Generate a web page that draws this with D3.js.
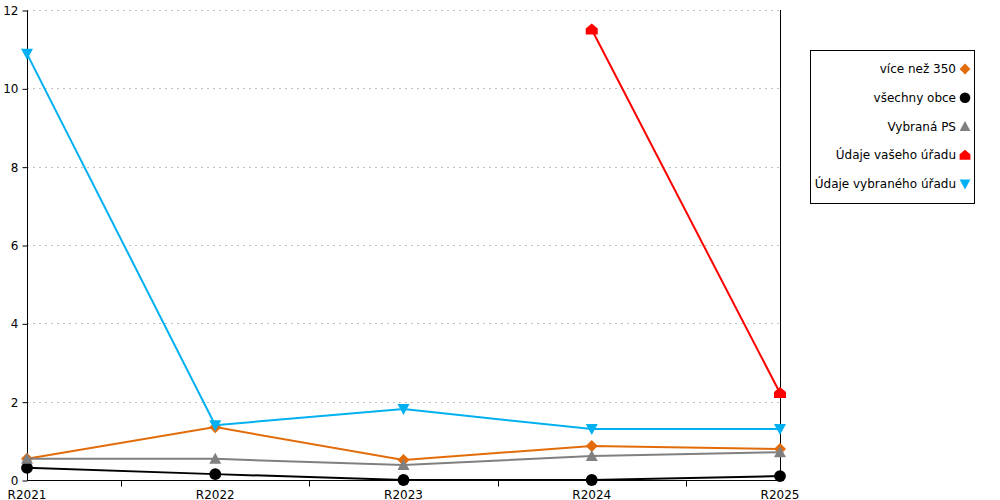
<!DOCTYPE html>
<html><head><meta charset="utf-8">
<script src="https://cdn.jsdelivr.net/npm/d3@7"></script>
<style>
body{margin:0;background:#fff;}
text{font-family:"DejaVu Sans",sans-serif;font-size:12px;fill:#000;}
</style></head>
<body><svg id="c" width="1000" height="500"></svg>
<script>
const categories = ["R2021","R2022","R2023","R2024","R2025"];
const yTicks = [0,2,4,6,8,10,12];
const seriesNames = ["více než 350","všechny obce","Vybraná PS","Údaje vašeho úřadu","Údaje vybraného úřadu"];
const seriesColors = ["#E36C0A","#000000","#808080","#FF0000","#00B0F0"];
const seriesMarkers = ["diamond","circle","triangleUp","house","triangleDown"];
const valsVice350 = [0.54,1.35,0.51,0.87,0.79];
const valsVsechny = [0.31,0.15,0,0,0.1];
const valsPS = [0.54,0.54,0.38,0.61,0.71];
const valsVasUrad = [null,null,null,11.5,2.22];
const valsVybranyUrad = [10.88,1.4,1.81,1.3,1.3];
const seriesValues = [valsVice350,valsVsechny,valsPS,valsVasUrad,valsVybranyUrad];

const svg = d3.select("#c");
const L=27,R=780,T=10,B=480;
const x = d3.scalePoint().domain(categories).range([L,R]);
const y = d3.scaleLinear().domain([0,12]).range([B,T]);

// grid
svg.append("g").selectAll("line").data(yTicks.filter(d=>d>0)).join("line")
  .attr("x1",L).attr("x2",R).attr("y1",d=>Math.round(y(d))+0.5).attr("y2",d=>Math.round(y(d))+0.5)
  .attr("stroke","#c0c0c0").attr("stroke-dasharray","2,4");

// right border
svg.append("line").attr("x1",R+0.5).attr("x2",R+0.5).attr("y1",T).attr("y2",B).attr("stroke","#000");

// y axis
const ya = svg.append("g").attr("transform",`translate(${L+0.5},0.5)`)
  .call(d3.axisLeft(y).tickValues(yTicks).tickSize(5).tickPadding(4).tickFormat(d3.format("d")));
ya.select(".domain").attr("d",`M0,${T}V${B}`);
ya.selectAll("text").style("font-family","DejaVu Sans").style("font-size","12px");

// x axis
const xa = svg.append("g").attr("transform",`translate(0,${B+0.5})`);
xa.append("line").attr("x1",L).attr("x2",R).attr("stroke","#000");
const step = x.step();
const mids = categories.slice(0,-1).map(c=>x(c)+step/2);
xa.selectAll("line.t").data(mids).join("line").attr("class","t")
  .attr("x1",d=>Math.round(d)+0.5).attr("x2",d=>Math.round(d)+0.5).attr("y1",0).attr("y2",6).attr("stroke","#000");
xa.selectAll("text").data(categories).join("text")
  .attr("x",d=>x(d)).attr("y",18).attr("text-anchor","middle").text(d=>d);

function markerPath(type){
  switch(type){
    case "diamond": return "M0,-6L6,0L0,6L-6,0Z";
    case "circle": return d3.symbol(d3.symbolCircle,110)();
    case "triangleUp": return "M0,-6L6,5L-6,5Z";
    case "triangleDown": return "M-6,-5L6,-5L0,6Z";
    case "house": return "M0,-6L6,-1L6,5L-6,5L-6,-1Z";
  }
}

const line = d3.line().defined(d=>d.v!==null).x(d=>x(d.c)).y(d=>y(d.v));
seriesNames.forEach((name,i)=>{
  const data = categories.map((c,j)=>({c,v:seriesValues[i][j]}));
  const g = svg.append("g");
  g.append("path").datum(data).attr("d",line).attr("fill","none")
    .attr("stroke",seriesColors[i]).attr("stroke-width",2);
  g.selectAll("path.m").data(data.filter(d=>d.v!==null)).join("path").attr("class","m")
    .attr("d",markerPath(seriesMarkers[i])).attr("fill",seriesColors[i])
    .attr("transform",d=>`translate(${x(d.c)},${y(d.v)})`);
});

// legend
const lg = svg.append("g");
lg.append("rect").attr("x",810.5).attr("y",50.5).attr("width",164).attr("height",153)
  .attr("fill","#fff").attr("stroke","#000");
const rowY = d3.scalePoint().domain(seriesNames).range([69,184]);
seriesNames.forEach((name,i)=>{
  lg.append("text").attr("x",956).attr("y",rowY(name)+4).attr("text-anchor","end").text(name);
  lg.append("path").attr("d",markerPath(seriesMarkers[i])).attr("fill",seriesColors[i])
    .attr("transform",`translate(965,${rowY(name)}) scale(0.9)`);
});
</script></body></html>
